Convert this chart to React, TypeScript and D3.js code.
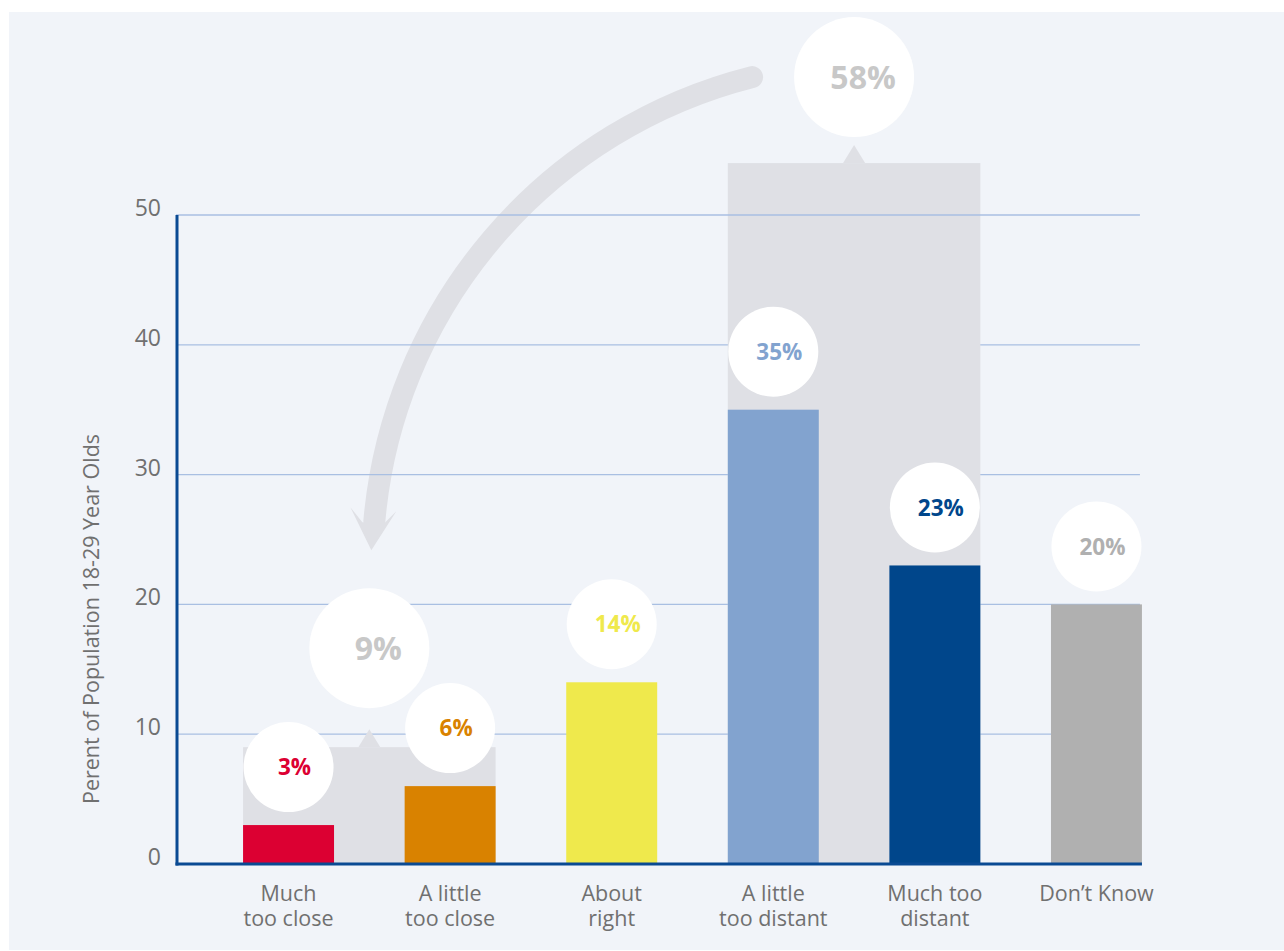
import React from "react";
import * as d3 from "d3";

const categories: string[][] = [
  ["Much", "too close"],
  ["A little", "too close"],
  ["About", "right"],
  ["A little", "too distant"],
  ["Much too", "distant"],
  ["Don\u2019t Know"],
];
const values = [3, 6, 14, 35, 23, 20];
const barColors = ["#dc0032", "#d98200", "#efe94c", "#82a3cf", "#00468b", "#b0b0b0"];
const yTicks = [0, 10, 20, 30, 40, 50];
const groupTotals = [9, 58];
const groupMembers = [[0, 1], [3, 4]];
const yTitle = "Perent of Population 18-29 Year Olds";

const W = 1284;
const H = 951;
const FONT = "'Open Sans', 'DejaVu Sans', sans-serif";
const GREY_BOX = "#dfe0e5";
const BOX_CAP = 54; // the 58% box is drawn clipped near the top of the plot
const groupCircleGap = [99, 86];

export default function App() {
  const x = d3
    .scaleBand<number>()
    .domain(values.map((_, i) => i))
    .range([176, 1209])
    .paddingInner(0.437)
    .paddingOuter(0.415);
  const y = d3.scaleLinear().domain([0, 50]).range([864, 215]);
  const bw = x.bandwidth();
  const cx = (i: number) => (x(i) as number) + bw / 2;
  const axisRight = (x(values.length - 1) as number) + bw;

  const groups = groupTotals.map((t, g) => {
    const [a, b] = groupMembers[g];
    const left = x(a) as number;
    const right = (x(b) as number) + bw;
    const top = y(Math.min(t, BOX_CAP));
    const mid = (cx(a) + cx(b)) / 2;
    const cy = top - groupCircleGap[g];
    return { t, left, right, top, mid, cy };
  });

  // arrow from 58% label to 9% group: a circular arc
  const g1 = groups[0];
  const g2 = groups[1];
  const p0: [number, number] = [g2.mid - 102, g2.cy];
  const tip: [number, number] = [g1.mid + 2, g1.cy - 60 - 38];
  const p3: [number, number] = [tip[0] + 3, tip[1] - 29];
  const R = 503;
  const arrowPath = `M${p0[0]},${p0[1]} A${R},${R} 0 0,0 ${p3[0]},${p3[1]}`;
  const head = [
    [tip[0] - 21, tip[1] - 43],
    [tip[0] - 9, tip[1] - 28],
    [tip[0] + 13, tip[1] - 27],
    [tip[0] + 25, tip[1] - 39],
    [tip[0], tip[1]],
  ]
    .map((p) => p.join(","))
    .join(" ");

  return (
    <svg
      width={W}
      height={H}
      style={{ position: "absolute", left: 0, top: 0, display: "block" }}
      fontFamily={FONT}
    >
      <rect x={0} y={0} width={W} height={H} fill="#ffffff" />
      <rect x={9} y={12} width={W - 9} height={938} fill="#f1f4f9" />

      {/* arrow */}
      <path d={arrowPath} fill="none" stroke={GREY_BOX} strokeWidth={22} strokeLinecap="round" />
      <polygon points={head} fill={GREY_BOX} />

      {/* gridlines */}
      {yTicks
        .filter((t) => t > 0 && t < 50)
        .map((t) => (
          <line key={t} x1={176} x2={axisRight - 2} y1={y(t)} y2={y(t)} stroke="#a9bfe2" strokeWidth={1.3} />
        ))}

      {/* group boxes */}
      {groups.map((g, i) => (
        <g key={i}>
          <rect x={g.left} y={g.top} width={g.right - g.left} height={y(0) - g.top} fill={GREY_BOX} />
          <polygon
            points={`${g.mid - 11},${g.top} ${g.mid + 11},${g.top} ${g.mid},${g.top - 18}`}
            fill={GREY_BOX}
          />
        </g>
      ))}

      <line x1={176} x2={axisRight - 2} y1={y(50)} y2={y(50)} stroke="#a9bfe2" strokeWidth={1.3} />

      {/* bars */}
      {values.map((v, i) => (
        <rect key={i} x={x(i) as number} y={y(v)} width={bw} height={y(0) - y(v)} fill={barColors[i]} />
      ))}

      {/* bar value circles */}
      {values.map((v, i) => (
        <g key={i}>
          <circle cx={cx(i)} cy={y(v) - 58} r={45} fill="#ffffff" />
          <text
            x={cx(i) + 6}
            y={y(v) - 58}
            dy="0.36em"
            textAnchor="middle"
            fontSize={22.5}
            fontWeight={700}
            fill={barColors[i]}
          >
            {v}%
          </text>
        </g>
      ))}

      {/* group circles */}
      {groups.map((g, i) => (
        <g key={i}>
          <circle cx={g.mid} cy={g.cy} r={60} fill="#ffffff" />
          <text
            x={g.mid + 9}
            y={g.cy}
            dy="0.36em"
            textAnchor="middle"
            fontSize={32}
            fontWeight={700}
            fill="#c8c8c8"
          >
            {g.t}%
          </text>
        </g>
      ))}

      {/* axes */}
      <line x1={177} x2={177} y1={y(50)} y2={y(0) + 1.5} stroke="#0a4a93" strokeWidth={3} />
      <line x1={175.5} x2={axisRight} y1={y(0)} y2={y(0)} stroke="#0a4a93" strokeWidth={3} />

      {/* y tick labels */}
      {yTicks.map((t) => (
        <text key={t} x={161} y={y(t) + 1} textAnchor="end" fontSize={23} fill="#707070">
          {t}
        </text>
      ))}

      {/* category labels */}
      {categories.map((lines, i) =>
        lines.map((l, j) => (
          <text
            key={`${i}-${j}`}
            x={cx(i)}
            y={901 + j * 24.5}
            textAnchor="middle"
            fontSize={21.5}
            fill="#707070"
          >
            {l}
          </text>
        ))
      )}

      {/* y title */}
      <text
        transform={`translate(99,619) rotate(-90)`}
        textAnchor="middle"
        fontSize={21.5}
        fill="#707070"
      >
        {yTitle}
      </text>
    </svg>
  );
}
